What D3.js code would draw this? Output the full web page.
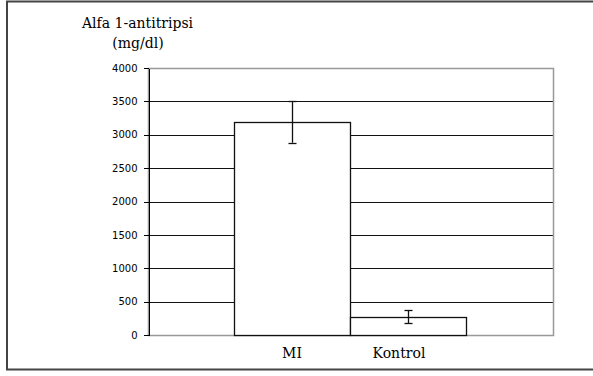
<!DOCTYPE html>
<html>
<head>
  <meta charset="utf-8">
  <title>Alfa 1-antitripsi</title>
  <script src="https://d3js.org/d3.v7.min.js"></script>
  <style>
    body { margin: 0; background: #fff; }
    .axis text { font: 10px "DejaVu Sans", sans-serif; fill: #000; }
    .axis path, .axis line { stroke: #000; shape-rendering: crispEdges; }
    .lbl { font-family: "DejaVu Serif", serif; fill: #000; }
  </style>
</head>
<body>
<svg id="chart" width="593" height="376"></svg>
<script>
  // data
  const groups = ["MI", "Kontrol"];
  const means = [3190, 275];
  const errors = [310, 100];
  const yTicks = [0, 500, 1000, 1500, 2000, 2500, 3000, 3500, 4000];

  const plot = { left: 148, right: 553, top: 68, bottom: 335 };

  const svg = d3.select("#chart");

  // outer frame
  svg.append("rect")
    .attr("x", 7).attr("y", 1.5)
    .attr("width", 620).attr("height", 368)
    .attr("fill", "none")
    .attr("stroke", "#444")
    .attr("stroke-width", 2);

  const y = d3.scaleLinear().domain([0, 4000]).range([plot.bottom, plot.top]);
  const x = d3.scaleBand().domain(groups).range([234, 466]).padding(0);

  // gridlines
  svg.append("g")
    .selectAll("line")
    .data(yTicks.filter(d => d > 0 && d < 4000))
    .join("line")
    .attr("x1", plot.left).attr("x2", plot.right)
    .attr("y1", d => Math.round(y(d)) + 0.5)
    .attr("y2", d => Math.round(y(d)) + 0.5)
    .attr("stroke", "#111")
    .attr("stroke-width", 1.2);

  // plot border (gray)
  svg.append("rect")
    .attr("x", plot.left + 0.5).attr("y", plot.top + 0.5)
    .attr("width", plot.right - plot.left)
    .attr("height", plot.bottom - plot.top)
    .attr("fill", "none")
    .attr("stroke", "#999")
    .attr("stroke-width", 1.5);

  // bars
  svg.append("g")
    .selectAll("rect")
    .data(groups)
    .join("rect")
    .attr("x", d => x(d) + 0.5)
    .attr("y", (d, i) => Math.round(y(means[i])) + 0.5)
    .attr("width", x.bandwidth())
    .attr("height", (d, i) => Math.round(y(0)) - Math.round(y(means[i])))
    .attr("fill", "#fff")
    .attr("stroke", "#111")
    .attr("stroke-width", 1.3);

  // error bars
  const eb = svg.append("g").attr("stroke", "#111").attr("stroke-width", 1.3);
  groups.forEach((g, i) => {
    const cx = Math.round(x(g) + x.bandwidth() / 2) + 0.5;
    const y1 = y(means[i] + errors[i]);
    const y2 = y(means[i] - errors[i]);
    eb.append("line").attr("x1", cx).attr("x2", cx).attr("y1", y1).attr("y2", y2);
    [y1, y2].forEach(v => {
      eb.append("line")
        .attr("x1", cx - 4).attr("x2", cx + 4)
        .attr("y1", Math.round(v) + 0.5).attr("y2", Math.round(v) + 0.5);
    });
  });

  // y axis
  svg.append("g")
    .attr("class", "axis")
    .attr("transform", `translate(${plot.left + 0.5},0)`)
    .call(d3.axisLeft(y).tickValues(yTicks).tickSize(5).tickPadding(6).tickSizeOuter(0).tickFormat(d3.format("d")));

  // category labels
  svg.append("g")
    .selectAll("text")
    .data(groups)
    .join("text")
    .attr("class", "lbl")
    .attr("x", (d, i) => x(d) + x.bandwidth() / 2 - (i === 1 ? 9 : 0))
    .attr("y", 358)
    .attr("text-anchor", "middle")
    .attr("font-size", 14)
    .text(d => d);

  // y title
  svg.append("text").attr("class", "lbl")
    .attr("x", 82).attr("y", 28).attr("font-size", 14)
    .text("Alfa 1-antitripsi");
  svg.append("text").attr("class", "lbl")
    .attr("x", 138).attr("y", 48).attr("font-size", 14)
    .attr("text-anchor", "middle")
    .text("(mg/dl)");
</script>
</body>
</html>
